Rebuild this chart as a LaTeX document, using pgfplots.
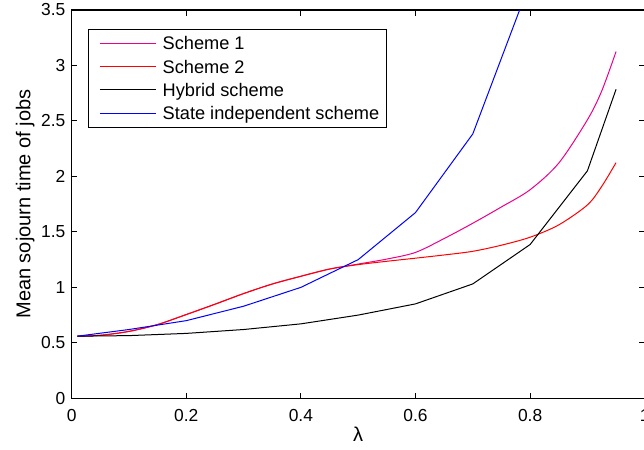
\documentclass[border=0pt]{standalone}
\usepackage{fontspec}
\setmainfont{Liberation Sans}
\usepackage{pgfplots}
\pgfplotsset{compat=1.18}
\usetikzlibrary{calc}

\begin{document}
\fontsize{9}{11}\selectfont
\begin{tikzpicture}
\begin{axis}[
    scale only axis,
    width=286.5pt, height=194.15pt,
    xmin=0, xmax=1, ymin=0, ymax=3.5,
    xtick={0,0.2,0.4,0.6,0.8,1},
    ytick={0,0.5,1,1.5,2,2.5,3,3.5},
    tick align=inside, tick pos=both,
    major tick length=2.75pt,
    tick style={black, line width=0.5pt},
    axis line style={line width=0.7pt},
    /pgf/number format/assume math mode=true,
    ticklabel style={font=\fontsize{8.7}{10}\selectfont},
    xticklabel style={yshift=-2.5pt},
    xlabel={λ},
    ylabel={Mean sojourn time of jobs},
    label style={font=\fontsize{10}{12}\selectfont},
    xlabel style={at={(axis description cs:0.5,-0.1118)}, anchor=base},
    ylabel style={at={(axis description cs:-0.0719,0.5)}, anchor=base},
]
% Scheme 1
\addplot[magenta, line width=0.5pt, smooth] coordinates {
(0.01,0.56) (0.05,0.568) (0.1,0.603) (0.15,0.665) (0.2,0.755) (0.25,0.848)
(0.3,0.944) (0.35,1.03) (0.4,1.10) (0.45,1.165) (0.5,1.21) (0.55,1.255)
(0.6,1.315) (0.65,1.44) (0.7,1.578) (0.75,1.725) (0.8,1.88) (0.85,2.12)
(0.9,2.51) (0.925,2.77) (0.95,3.125)};
% Scheme 2
\addplot[red, line width=0.5pt, smooth] coordinates {
(0.01,0.56) (0.05,0.568) (0.1,0.603) (0.15,0.665) (0.2,0.755) (0.25,0.848)
(0.3,0.944) (0.35,1.03) (0.4,1.10) (0.45,1.165) (0.5,1.205) (0.55,1.235)
(0.6,1.263) (0.65,1.292) (0.7,1.325) (0.75,1.38) (0.8,1.452) (0.85,1.563)
(0.9,1.743) (0.925,1.91) (0.95,2.124)};
% Hybrid scheme
\addplot[black, line width=0.5pt] coordinates {
(0.01,0.56) (0.1,0.565) (0.2,0.585) (0.3,0.62) (0.4,0.671) (0.5,0.75)
(0.6,0.851) (0.7,1.031) (0.8,1.386) (0.9,2.05) (0.95,2.785)};
% State independent scheme
\addplot[blue, line width=0.5pt] coordinates {
(0.01,0.56) (0.1,0.62) (0.2,0.70) (0.3,0.83) (0.4,1.0) (0.5,1.25)
(0.6,1.674) (0.7,2.383) (0.8,3.75)};

\coordinate (sw) at (rel axis cs:0,0);
\coordinate (ne) at (rel axis cs:1,1);
\end{axis}

% legend box (drawn by hand, the matrix legend lost its colours)
\draw[black, line width=0.5pt, fill=white] ($(sw)+(8.3pt,135.3pt)$) rectangle ($(sw)+(157.5pt,184.5pt)$);
\draw[magenta, line width=0.5pt] ($(sw)+(14.15pt,177.5pt)$) -- ($(sw)+(42pt,177.5pt)$);
\draw[red, line width=0.5pt] ($(sw)+(14.15pt,165.8pt)$) -- ($(sw)+(42pt,165.8pt)$);
\draw[black, line width=0.5pt] ($(sw)+(14.15pt,154.15pt)$) -- ($(sw)+(42pt,154.15pt)$);
\draw[blue, line width=0.5pt] ($(sw)+(14.15pt,142.5pt)$) -- ($(sw)+(42pt,142.5pt)$);
\begin{scope}[every node/.style={anchor=base west, inner sep=0pt, font=\fontsize{9.1}{11}\selectfont}]
\node at ($(sw)+(45.3pt,174.24pt)$) {Scheme 1};
\node at ($(sw)+(45.3pt,162.54pt)$) {Scheme 2};
\node at ($(sw)+(45.3pt,150.89pt)$) {Hybrid scheme};
\node at ($(sw)+(45.3pt,139.24pt)$) {State independent scheme};
\end{scope}

\pgfresetboundingbox
\useasboundingbox ($(sw)+(-35.85pt,-25.85pt)$) rectangle ($(ne)+(-0.35pt,5pt)$);
\end{tikzpicture}
\end{document}
